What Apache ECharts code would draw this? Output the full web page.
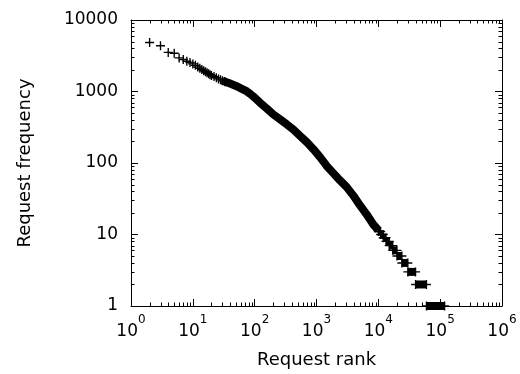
<!DOCTYPE html>
<html><head><meta charset="utf-8">
<script src="https://cdn.jsdelivr.net/npm/echarts@6/dist/echarts.min.js"></script>
<style>html,body{margin:0;padding:0;background:#fff}#c{width:520px;height:374px}</style>
</head><body><div id="c"></div>
<script>
// ---- data ----
const xTickBase = '10';
const xTickExponents = ['0', '1', '2', '3', '4', '5', '6'];
const yTickLabels = ['1', '10', '100', '1000', '10000'];
const xName = 'Request rank';
const yName = 'Request frequency';

// individual sparse points (top-left)
const headRanks = [2, 3, 4, 5, 6, 7, 8, 9, 10, 11, 12, 13, 14, 15, 16, 17, 18, 19, 20, 22, 24, 26, 28, 30, 33];
const headFreqs = [4840, 4360, 3520, 3430, 2950, 2800, 2650, 2540, 2430, 2320, 2200, 2110, 2030, 1950, 1890, 1830, 1770, 1720, 1680, 1615, 1555, 1500, 1455, 1410, 1370];

// dense body of the curve
const bandRanks = [30, 35, 40, 51, 62, 74, 84, 100, 122, 160, 200, 260, 330, 420, 541, 700, 890, 1150, 1462, 1900, 2400, 3080, 3943, 5055, 6500, 8300, 10000];
const bandFreqs = [1420, 1350, 1290, 1186, 1090, 1010, 930, 820, 697, 570, 479, 405, 348, 295, 240, 195, 156, 120, 91, 71, 57, 46, 35, 25.5, 19, 13.8, 11.5];

// tail: runs of equal frequency
const tailFreqs = [11, 10, 9, 8, 7, 6, 5, 4, 3, 2, 1];
const tailRankStart = [10000, 10900, 12000, 13300, 15000, 17100, 20000, 24000, 30000, 40000, 60000];
const tailRankEnd = [10900, 12000, 13300, 15000, 17100, 20000, 24000, 30000, 40000, 60000, 118000];

// ---- chart ----
const FONT = 'DejaVu Sans';
const PLUS = 'path://M4.25,0h1.5v4.25h4.25v1.5h-4.25v4.25h-1.5v-4.25h-4.25v-1.5h4.25z';

const chart = echarts.init(document.getElementById('c'), null, {renderer: 'canvas'});

const tailSeries = tailFreqs.map((f, i) => ({
  type: 'line', xAxisIndex: 0, yAxisIndex: 0, clip: false, silent: true,
  data: [[tailRankStart[i], f], [tailRankEnd[i], f]],
  lineStyle: {color: '#000', width: 8, cap: 'butt'},
  symbol: PLUS, symbolSize: 9, showSymbol: true,
  itemStyle: {color: '#000', opacity: 1}
}));

const axisCommon = {
  type: 'log', logBase: 10,
  axisLine: {show: true, lineStyle: {color: '#000', width: 1}},
  axisTick: {show: true, inside: true, length: 7, lineStyle: {color: '#000', width: 1}},
  splitLine: {show: false},
  minorTick: {show: false}
};

chart.setOption({
  animation: false,
  backgroundColor: '#fff',
  grid: {left: 131, right: 18, top: 20, bottom: 66, containLabel: false},
  xAxis: [
    Object.assign({}, axisCommon, {
      min: 1, max: 1e6, interval: 1, position: 'bottom',
      axisLabel: {
        margin: 8,
        formatter: v => '{b|' + xTickBase + '}{s|' + xTickExponents[Math.round(Math.log10(v))] + '}',
        rich: {
          b: {fontSize: 17, lineHeight: 26, verticalAlign: 'bottom', fontFamily: FONT, color: '#000'},
          s: {fontSize: 12, lineHeight: 12, verticalAlign: 'top', fontFamily: FONT, color: '#000'}
        }
      },
      name: xName, nameLocation: 'middle', nameGap: 45,
      nameTextStyle: {fontSize: 18, fontFamily: FONT, color: '#000'}
    }),
    Object.assign({}, axisCommon, {
      min: 1, max: 1e6, interval: 1, position: 'top',
      axisLabel: {show: false}
    })
  ],
  yAxis: [
    Object.assign({}, axisCommon, {
      min: 1, max: 10000, interval: 1, position: 'left',
      axisLabel: {
        margin: 13, fontSize: 17, fontFamily: FONT, color: '#000',
        formatter: v => yTickLabels[Math.round(Math.log10(v))]
      },
      name: yName, nameLocation: 'middle', nameGap: 97,
      nameTextStyle: {fontSize: 18, fontFamily: FONT, color: '#000'}
    }),
    Object.assign({}, axisCommon, {
      min: 1, max: 10000, interval: 1, position: 'right',
      axisLabel: {show: false}
    })
  ],
  series: [
    {
      type: 'line', xAxisIndex: 0, yAxisIndex: 0, silent: true,
      data: bandRanks.map((r, i) => [r, bandFreqs[i]]),
      lineStyle: {color: '#000', width: 8, cap: 'butt', join: 'round'},
      showSymbol: false, symbol: 'none'
    },
    {
      type: 'scatter', xAxisIndex: 0, yAxisIndex: 0, silent: true,
      data: headRanks.map((r, i) => [r, headFreqs[i]]),
      symbol: PLUS, symbolSize: 9, itemStyle: {color: '#000', opacity: 1}
    }
  ].concat(tailSeries)
});

// minor ticks (2..9 per decade) on all four sides, positioned through the axes' own scales
const g = [];
const gridRect = chart.getModel().getComponent('grid', 0).coordinateSystem.getRect();
const L = 3.5;
const st = {stroke: '#000', lineWidth: 1};
for (let k = 0; k < 6; k++) for (let m = 2; m <= 9; m++) {
  const x = Math.round(chart.convertToPixel({xAxisIndex: 0}, m * Math.pow(10, k))) + 0.5;
  g.push({type: 'line', silent: true, shape: {x1: x, y1: gridRect.y + gridRect.height, x2: x, y2: gridRect.y + gridRect.height - L}, style: st});
  g.push({type: 'line', silent: true, shape: {x1: x, y1: gridRect.y, x2: x, y2: gridRect.y + L}, style: st});
}
for (let k = 0; k < 4; k++) for (let m = 2; m <= 9; m++) {
  const y = Math.round(chart.convertToPixel({yAxisIndex: 0}, m * Math.pow(10, k))) + 0.5;
  g.push({type: 'line', silent: true, shape: {x1: gridRect.x, y1: y, x2: gridRect.x + L, y2: y}, style: st});
  g.push({type: 'line', silent: true, shape: {x1: gridRect.x + gridRect.width, y1: y, x2: gridRect.x + gridRect.width - L, y2: y}, style: st});
}
chart.setOption({graphic: {elements: g}});
</script>
</body></html>
